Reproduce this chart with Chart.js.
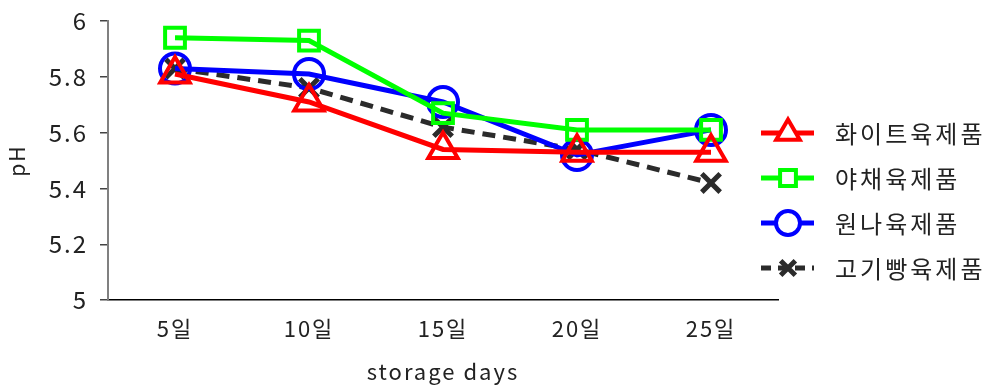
<!DOCTYPE html>
<html>
<head>
<meta charset="utf-8">
<script src="https://cdn.jsdelivr.net/npm/chart.js@4.4.0/dist/chart.umd.min.js"></script>
<style>
  html, body { margin: 0; padding: 0; background: #fff; }
  #wrap { width: 995px; height: 389px; }
</style>
</head>
<body>
<div id="wrap"><canvas id="grafico"></canvas></div>
<script>
const dias = ["5일", "10일", "15일", "20일", "25일"];
const blanco = [5.81, 5.71, 5.54, 5.53, 5.53];     // 화이트육제품
const verdura = [5.94, 5.93, 5.67, 5.61, 5.61];    // 야채육제품
const original = [5.83, 5.81, 5.71, 5.52, 5.61];   // 원나육제품
const pan = [5.83, 5.76, 5.62, 5.54, 5.42];        // 고기빵육제품
const nombres = ["화이트육제품", "야채육제품", "원나육제품", "고기빵육제품"];

const fuente = "'Noto Sans CJK KR', 'Noto Sans', sans-serif";

function serie(label, data, color, estilo, radio, orden, dash) {
  return {
    label, data,
    borderColor: color,
    backgroundColor: color,
    borderWidth: 5,
    borderDash: dash || [],
    pointStyle: estilo,
    pointRadius: radio,
    pointHoverRadius: radio,
    pointBorderWidth: estilo === 'crossRot' ? 5 : 4,
    pointBorderColor: color,
    pointBackgroundColor: 'rgba(0,0,0,0)',
    tension: 0,
    fill: false,
    order: orden
  };
}

// espaciado de letras como en el original
const espaciado = {
  id: 'espaciado',
  beforeLayout(chart) { chart.ctx.letterSpacing = '2px'; },
  beforeDraw(chart) { chart.ctx.letterSpacing = '2px'; }
};

// leyenda dibujada a mano: linea + marcador + texto
const leyendaPlugin = {
  id: 'leyenda',
  afterDraw(chart) {
    const ctx = chart.ctx;
    chart.data.datasets.forEach((ds, i) => {
      const y = 133 + i * 45;
      ctx.save();
      ctx.strokeStyle = ds.borderColor;
      ctx.lineWidth = 5;
      ctx.setLineDash(ds.borderDash.length ? [10, 7] : []);
      ctx.beginPath();
      ctx.moveTo(761, y);
      ctx.lineTo(814, y);
      ctx.stroke();
      ctx.setLineDash([]);
      ctx.strokeStyle = ds.pointBorderColor;
      ctx.fillStyle = '#fff';
      ctx.lineWidth = ds.pointBorderWidth;
      Chart.helpers.drawPoint(ctx, {
        pointStyle: ds.pointStyle,
        radius: ds.pointRadius * 0.8,
        rotation: 0,
        borderWidth: ds.pointBorderWidth
      }, 788, y);
      ctx.fillStyle = '#222';
      ctx.font = "24px " + fuente;
      ctx.letterSpacing = '3px';
      ctx.textBaseline = 'middle';
      ctx.fillText(ds.label, 835, y + 1);
      ctx.restore();
    });
  }
};

new Chart(document.getElementById('grafico'), {
  type: 'line',
  data: {
    labels: dias,
    datasets: [
      serie(nombres[0], blanco, '#ff0000', 'triangle', 17, 1),
      serie(nombres[1], verdura, '#00ff00', 'rect', 14, 2),
      serie(nombres[2], original, '#0000ff', 'circle', 15, 3),
      serie(nombres[3], pan, '#2b2b2b', 'crossRot', 13, 4, [13, 8])
    ]
  },
  options: {
    responsive: true,
    maintainAspectRatio: false,
    animation: false,
    layout: { padding: { left: 0, top: 16, right: 217, bottom: 4 } },
    plugins: {
      legend: { display: false },
      tooltip: { enabled: false },
      title: { display: false }
    },
    scales: {
      x: {
        offset: true,
        grid: { display: false, drawTicks: false },
        border: { display: true, color: '#000', width: 1.5 },
        ticks: { color: '#222', font: { family: fuente, size: 22 }, padding: 15 },
        title: {
          display: true, text: 'storage days', color: '#222',
          font: { family: fuente, size: 22 }, padding: { top: 2, bottom: 0 }
        }
      },
      y: {
        min: 5, max: 6,
        afterFit(scale) {
          scale.width = 108;
          scale.paddingTop = 0;
          scale.paddingBottom = 0;
        },
        grid: { drawOnChartArea: false, drawTicks: true, tickLength: 8, color: '#444', lineWidth: 1.5 },
        border: { display: true, color: '#808080', width: 2 },
        ticks: {
          stepSize: 0.2, color: '#222', padding: 12,
          font: { family: fuente, size: 24 },
          callback: v => String(Math.round(v * 10) / 10)
        },
        title: {
          display: true, text: 'pH', color: '#222',
          font: { family: fuente, size: 21 }, padding: { top: 4, bottom: 0 }
        }
      }
    }
  },
  plugins: [espaciado, leyendaPlugin]
});
</script>
</body>
</html>
